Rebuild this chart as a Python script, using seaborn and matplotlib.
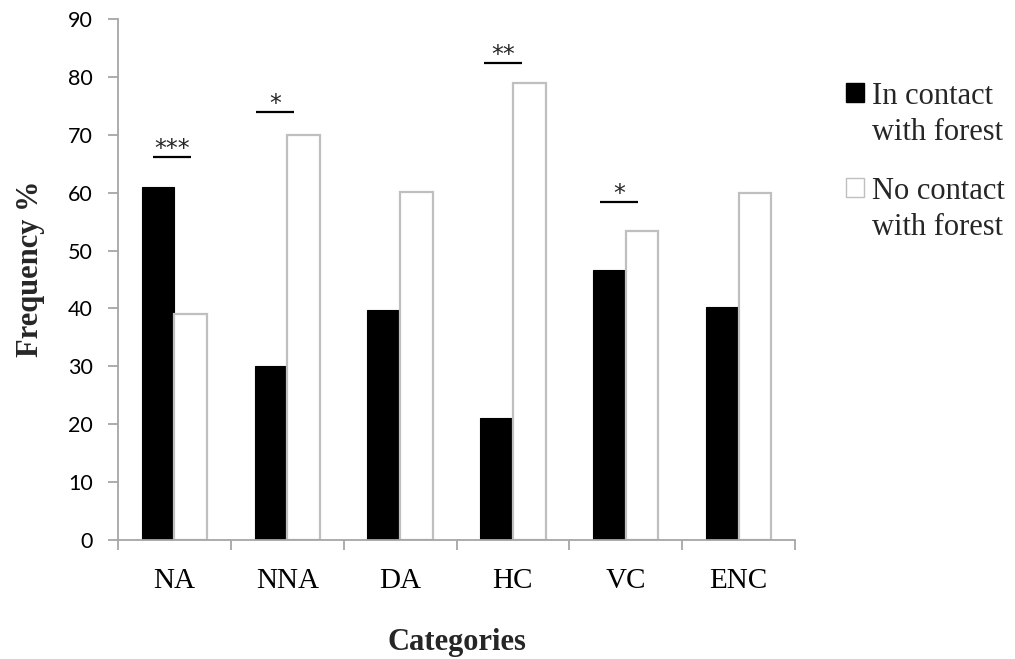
import numpy as np
import pandas as pd
import matplotlib
matplotlib.use("Agg")
import matplotlib.pyplot as plt
import seaborn as sns
from matplotlib.patches import Rectangle
from matplotlib.legend_handler import HandlerPatch
from matplotlib.ticker import FixedLocator

# ---------------- data ----------------
categories = ["NA", "NNA", "DA", "HC", "VC", "ENC"]
in_contact = [61.0, 30.0, 39.8, 21.0, 46.7, 40.2]
no_contact = [39.0, 70.0, 60.2, 79.0, 53.4, 59.9]
series_names = ["In contact\nwith forest", "No contact\nwith forest"]
y_ticks = [0, 10, 20, 30, 40, 50, 60, 70, 80, 90]

sig_categories = ["NA", "NNA", "HC", "VC"]
sig_labels = ["***", "*", "**", "*"]
sig_heights = [66.1, 73.9, 82.4, 58.4]

# layout-only offsets for the significance bars (category units)
sig_left = [-0.19, -0.275, -0.26, -0.23]
sig_right = [0.147, 0.06, 0.08, 0.11]

df = pd.DataFrame({
    "Category": categories * 2,
    "Frequency": in_contact + no_contact,
    "Series": [series_names[0]] * len(categories) + [series_names[1]] * len(categories),
})

sns.set_style("ticks")
SERIF = "Liberation Serif"
SANS = "Lato"
GRAY = "#a6a6a6"
BARGRAY = "#bfbfbf"

fig = plt.figure(figsize=(10.15, 6.59), dpi=100)
W, H = 1015, 659
ax = fig.add_axes([118 / W, (H - 540) / H, (795 - 118) / W, (540 - 19) / H])

sns.barplot(data=df, x="Category", y="Frequency", hue="Series",
            order=categories, hue_order=series_names,
            palette=["black", "white"], saturation=1, width=0.58, gap=0,
            errorbar=None, ax=ax)

for bar in ax.containers[0].patches:
    bar.set_edgecolor("black")
    bar.set_linewidth(0.8)
for bar in ax.containers[1].patches:
    bar.set_edgecolor(BARGRAY)
    bar.set_linewidth(1.6)

if ax.get_legend() is not None:
    ax.get_legend().remove()

ax.set_xlim(-0.5, len(categories) - 0.5)
ax.set_ylim(0, 90)
ax.yaxis.set_major_locator(FixedLocator(y_ticks))
ax.set_yticklabels([str(t) for t in y_ticks], fontsize=15.5, family=SANS, color="black")
ax.set_xticks(range(len(categories)))
ax.set_xticklabels(categories, fontsize=21, family=SERIF, color="black")
ax.xaxis.set_minor_locator(FixedLocator(np.arange(-0.5, len(categories), 1.0)))

ax.tick_params(axis="x", which="major", length=0, pad=20)
ax.tick_params(axis="x", which="minor", length=7, width=1.3, color=GRAY, direction="out")
ax.tick_params(axis="y", which="major", length=7, width=1.3, color=GRAY, direction="out", pad=11)

for s in ["top", "right"]:
    ax.spines[s].set_visible(False)
for s in ["left", "bottom"]:
    ax.spines[s].set_color(GRAY)
    ax.spines[s].set_linewidth(1.3)

ax.set_xlabel("Categories", fontsize=22, fontweight="bold", family=SERIF)
ax.set_ylabel("Frequency %", fontsize=22, fontweight="bold", family=SERIF)
ax.xaxis.set_label_coords(0.5, -0.168)
ax.yaxis.set_label_coords(-0.108, 0.52)

# significance annotations
for cat, lab, hgt, l, r in zip(sig_categories, sig_labels, sig_heights, sig_left, sig_right):
    i = categories.index(cat)
    ax.plot([i + l, i + r], [hgt, hgt], color="black", lw=1.6, solid_capstyle="butt")
    ax.annotate(lab, xy=(i + (l + r) / 2, hgt), xytext=(0, 1.0), textcoords="offset points",
                ha="center", va="baseline", fontsize=17, family="DejaVu Sans")

# legend
LS = 1.3
def square_top(legend, orig_handle, xdescent, ydescent, width, height, fontsize):
    return Rectangle((-xdescent, -ydescent + 0.5 * LS * fontsize + 0.07 * fontsize), width, height)

handles = [ax.containers[0].patches[0], ax.containers[1].patches[0]]
leg = fig.legend(handles, series_names, loc="upper left",
                 bbox_to_anchor=(846 / W, 1 - 82 / H), frameon=False,
                 prop={"family": SERIF, "size": 22},
                 handlelength=0.6, handleheight=0.6, handletextpad=0.25,
                 labelspacing=1.0, borderpad=0, borderaxespad=0,
                 handler_map={Rectangle: HandlerPatch(patch_func=square_top)})
for t in leg.get_texts():
    t.set_linespacing(LS)
for p in leg.get_patches():
    p.set_linewidth(1.0)

fig.savefig("out.png", dpi=100)
